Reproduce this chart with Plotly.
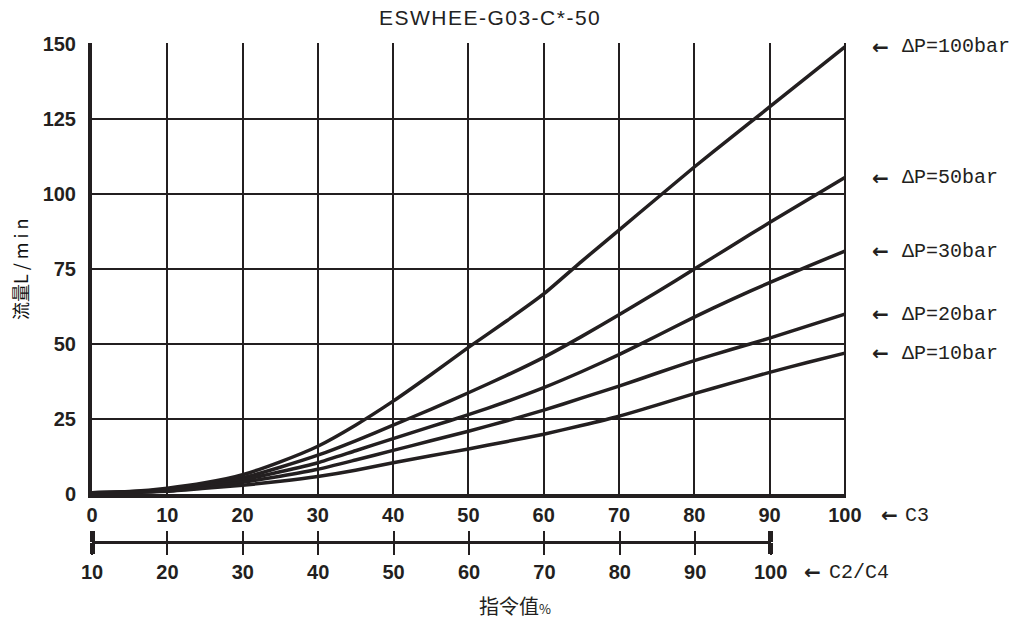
import plotly.graph_objects as go

# ---- data ----
cmd_c3 = [0, 5, 10, 15, 20, 25, 30, 35, 40, 45, 50, 55, 60, 65, 70, 75, 80, 85, 90, 95, 100]
flow_100 = [0.5, 0.9, 2.0, 3.8, 6.5, 10.8, 16.0, 23.0, 31.0, 39.8, 48.9, 57.6, 66.7, 77.5, 88.0, 98.5, 109.0, 119.0, 129.0, 139.0, 149.0]
flow_50 = [0.5, 0.8, 1.6, 3.2, 5.5, 9.0, 13.0, 17.8, 23.0, 28.3, 33.8, 39.5, 45.6, 52.5, 59.8, 67.3, 75.0, 82.8, 90.5, 98.0, 105.5]
flow_30 = [0.5, 0.7, 1.4, 2.8, 4.8, 7.5, 10.5, 14.5, 18.5, 22.5, 26.5, 30.8, 35.5, 40.8, 46.5, 52.7, 59.0, 64.9, 70.5, 75.8, 81.0]
flow_20 = [0.5, 0.7, 1.2, 2.4, 4.0, 6.0, 8.3, 11.4, 14.6, 17.8, 21.0, 24.4, 28.0, 32.0, 36.0, 40.3, 44.5, 48.3, 52.0, 56.0, 60.0]
flow_10 = [0.5, 0.6, 1.0, 2.0, 3.0, 4.3, 5.9, 8.0, 10.5, 12.8, 15.1, 17.5, 20.0, 22.9, 26.0, 29.7, 33.5, 37.1, 40.6, 43.9, 47.0]
series = [("ΔP=100bar", flow_100), ("ΔP=50bar", flow_50), ("ΔP=30bar", flow_30),
          ("ΔP=20bar", flow_20), ("ΔP=10bar", flow_10)]

c3_ticks = [0, 10, 20, 30, 40, 50, 60, 70, 80, 90, 100]
c24_ticks = [10, 20, 30, 40, 50, 60, 70, 80, 90, 100]
c24_ends = [10, 100]
y_ticks = [0, 25, 50, 75, 100, 125, 150]

title_text = "ESWHEE-G03-C*-50"
y_title = "流量<span style='letter-spacing:4px'>L/min</span>"
x_title = "指令值<span style='font-size:13px'>%</span>"

INK = "#231f20"
BOLD = "Liberation Sans, Arial, sans-serif"
MONO = "Liberation Mono, DejaVu Sans Mono, monospace"
CJK = "Noto Sans CJK SC, Noto Sans, sans-serif"

fig = go.Figure()
# invisible traces to activate the secondary (C2/C4) axes (drawn first, underneath)
for ax in ["x2", "x3", "x4", "x5"]:
    fig.add_trace(go.Scatter(x=[c24_ticks[0]], y=[0], xaxis=ax, yaxis="y",
                             mode="markers", marker=dict(opacity=0), showlegend=False,
                             hoverinfo="skip"))
for name, vals in series:
    fig.add_trace(go.Scatter(x=cmd_c3, y=vals, mode="lines", name=name,
                             line=dict(color=INK, width=3.5, shape="spline", smoothing=0.5),
                             showlegend=False, hoverinfo="x+y"))

ydom0 = 0.0957
tickfont = dict(family=BOLD, size=20, color=INK, weight="bold")

sec = dict(domain=[0, 0.9], range=[10, 100], anchor="free", position=0, showgrid=False,
           zeroline=False, tickcolor=INK, fixedrange=True)

fig.update_layout(
    width=1029, height=621,
    margin=dict(l=92, r=183, t=43, b=79),
    paper_bgcolor="white", plot_bgcolor="rgba(0,0,0,0)",
    xaxis=dict(range=[0, 100.15], tickvals=c3_ticks, domain=[0, 1], showgrid=True,
               gridcolor=INK, gridwidth=1.5, showline=True, linecolor=INK, linewidth=4,
               ticks="", zeroline=False, tickfont=tickfont, anchor="y",
               ticklabelstandoff=0, fixedrange=True),
    yaxis=dict(range=[0, 150.3], tickvals=y_ticks, domain=[ydom0, 1], showgrid=True,
               gridcolor=INK, gridwidth=1.5, showline=True, linecolor=INK, linewidth=4,
               ticks="", zeroline=False, tickfont=tickfont, ticklabelstandoff=8,
               fixedrange=True),
    xaxis2=dict(**sec, tickvals=c24_ticks, side="bottom", showline=True, linecolor=INK,
                linewidth=3, ticks="outside", ticklen=11, tickwidth=2, tickfont=tickfont,
                ticklabelstandoff=0),
    xaxis3=dict(**sec, tickvals=c24_ticks, side="top", showline=False, ticks="outside",
                ticklen=11, tickwidth=2, showticklabels=False),
    xaxis4=dict(**sec, tickvals=c24_ends, side="bottom", showline=False, ticks="outside",
                ticklen=11, tickwidth=4.5, showticklabels=False),
    xaxis5=dict(**sec, tickvals=c24_ends, side="top", showline=False, ticks="outside",
                ticklen=11, tickwidth=4.5, showticklabels=False),
    title=dict(text="<span style='letter-spacing:1.5px'>" + title_text + "</span>",
               x=0.528, xref="paper", xanchor="center",
               y=1 - 18 / 621, yref="container", yanchor="middle",
               font=dict(family="Liberation Sans, Arial, sans-serif", size=21, color="#222")),
)

arrowfont = dict(family="DejaVu Sans, sans-serif", size=20, color=INK, weight="bold")
labfont = dict(family=MONO, size=20, color=INK)
ann = []
for name, vals in series:
    ann.append(dict(text="←", x=1.032, xref="paper", y=vals[-1], yref="y", xanchor="left",
                    yanchor="middle", showarrow=False, font=arrowfont))
    ann.append(dict(text=name, x=1.071, xref="paper", y=vals[-1], yref="y", xanchor="left",
                    yanchor="middle", showarrow=False, font=labfont))
ann.append(dict(text="←", x=1.044, xref="paper", y=0.0535, yref="paper", xanchor="left",
                yanchor="middle", showarrow=False, font=arrowfont))
ann.append(dict(text="C3", x=1.076, xref="paper", y=0.0535, yref="paper", xanchor="left",
                yanchor="middle", showarrow=False, font=labfont))
ann.append(dict(text="←", x=0.942, xref="paper", y=-0.0608, yref="paper", xanchor="left",
                yanchor="middle", showarrow=False, font=arrowfont))
ann.append(dict(text="C2/C4", x=0.975, xref="paper", y=-0.0608, yref="paper", xanchor="left",
                yanchor="middle", showarrow=False, font=labfont))
ann.append(dict(text=y_title, x=-0.0955, xref="paper", y=0.551, yref="paper", xanchor="center",
                yanchor="middle", textangle=-90, showarrow=False,
                font=dict(family=CJK, size=18, color="#111")))
ann.append(dict(text=x_title, x=0.561, xref="paper", y=-0.127, yref="paper", xanchor="center",
                yanchor="middle", showarrow=False, font=dict(family=CJK, size=20, color=INK)))
fig.update_layout(annotations=ann)

fig.write_html("out.html", config={"displayModeBar": False},
               post_script="document.body.style.margin='0';document.body.style.overflow='hidden';")
